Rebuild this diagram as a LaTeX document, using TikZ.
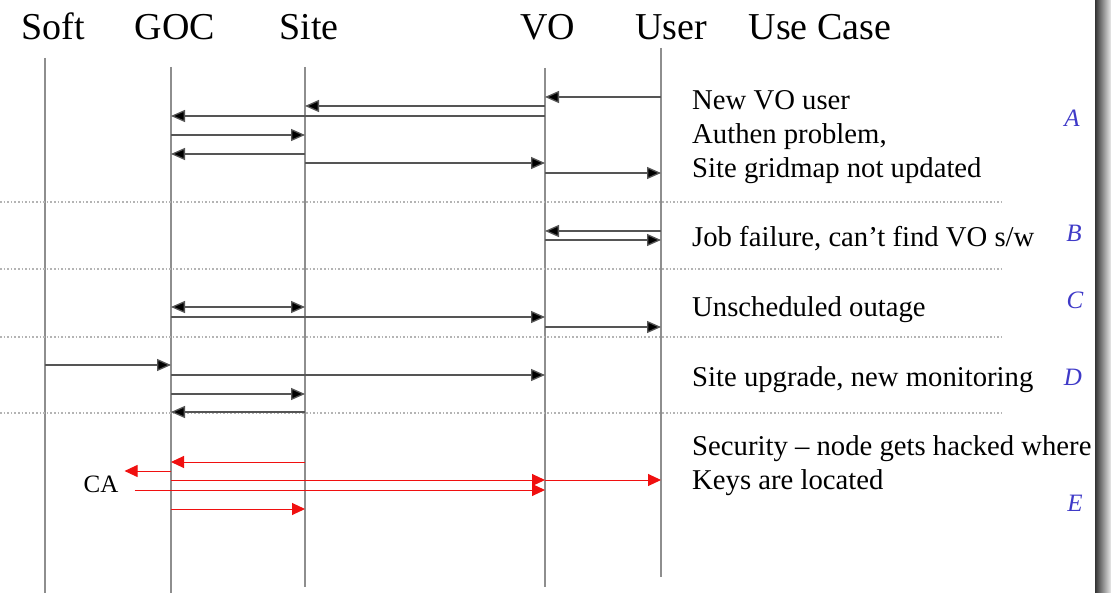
\documentclass[tikz,border=0pt]{standalone}
\usepackage{fontspec}
\setmainfont{Liberation Serif}
\usetikzlibrary{arrows.meta}
\definecolor{lifegray}{HTML}{8E8E8E}
\definecolor{msggray}{HTML}{555555}
\definecolor{sepgray}{HTML}{B4B4B4}
\definecolor{letterblue}{HTML}{3F3AC8}
\definecolor{msgred}{HTML}{F01010}
\tikzset{
  lifeline/.style={draw=lifegray, line width=1.6pt},
  msg/.style={draw=msggray, line width=1.3pt, -{Triangle[length=14pt,width=12pt,fill=black]}},
  dmsg/.style={draw=msggray, line width=1.3pt, {Triangle[length=14pt,width=12pt,fill=black]}-{Triangle[length=14pt,width=12pt,fill=black]}},
  rmsg/.style={draw=msgred, line width=1pt, -{Triangle[length=13pt,width=12pt,fill=msgred]}},
  sep/.style={draw=sepgray, line width=1.6pt, dotted},
  head/.style={font=\fontsize{38}{40}\selectfont, anchor=base, inner sep=0pt},
  body/.style={font=\fontsize{28.7}{34}\selectfont, anchor=base west, inner sep=0pt},
  letter/.style={font=\fontsize{25}{27}\selectfont\itshape, text=letterblue, inner sep=0pt},
}
\begin{document}
\begin{tikzpicture}[x=1pt, y=-1pt]
\useasboundingbox (0,0) rectangle (1111,593);
\fill[white] (0,0) rectangle (1111,593);
% right shadow edge
\shade[left color=black!80, right color=black!8] (1095,0) rectangle (1111,593);

% headers
\node[head] (hsoft) at (53,40) {Soft};
\node[head] (hgoc) at (175,40) {GOC};
\node[head] (hsite) at (309,40) {Site};
\node[head] (hvo) at (548,40) {VO};
\node[head] (huser) at (671,40) {User};
\node[head] (hcase) at (820,40) {Use Case};

% lifelines
\coordinate (soft) at (45,58);   \coordinate (softb) at (45,593);
\coordinate (goc) at (171,67);   \coordinate (gocb) at (171,593);
\coordinate (site) at (305,67);  \coordinate (siteb) at (305,587);
\coordinate (vo) at (545,68);    \coordinate (vob) at (545,587);
\coordinate (user) at (661,48);  \coordinate (userb) at (661,577);
\draw[lifeline] (soft) -- (softb);
\draw[lifeline] (goc) -- (gocb);
\draw[lifeline] (site) -- (siteb);
\draw[lifeline] (vo) -- (vob);
\draw[lifeline] (user) -- (userb);

% separators
\coordinate (s1a) at (0,202); \coordinate (s1b) at (1002,202);
\coordinate (s2a) at (0,269); \coordinate (s2b) at (1002,269);
\coordinate (s3a) at (0,337); \coordinate (s3b) at (1002,337);
\coordinate (s4a) at (0,413); \coordinate (s4b) at (1002,413);
\draw[sep] (s1a) -- (s1b);
\draw[sep] (s2a) -- (s2b);
\draw[sep] (s3a) -- (s3b);
\draw[sep] (s4a) -- (s4b);

% Section A
\draw[msg] (user |- 0,97) -- (vo |- 0,97);
\draw[msg] (vo |- 0,106) -- (site |- 0,106);
\draw[msg] (vo |- 0,116) -- (goc |- 0,116);
\draw[msg] (goc |- 0,135) -- (site |- 0,135);
\draw[msg] (site |- 0,154) -- (goc |- 0,154);
\draw[msg] (site |- 0,163) -- (vo |- 0,163);
\draw[msg] (vo |- 0,173) -- (user |- 0,173);

% Section B
\draw[msg] (user |- 0,231) -- (vo |- 0,231);
\draw[msg] (vo |- 0,240) -- (user |- 0,240);

% Section C
\draw[dmsg] (goc |- 0,307) -- (site |- 0,307);
\draw[msg] (goc |- 0,317) -- (vo |- 0,317);
\draw[msg] (vo |- 0,327) -- (user |- 0,327);

% Section D
\draw[msg] (soft |- 0,365) -- (goc |- 0,365);
\draw[msg] (goc |- 0,375) -- (vo |- 0,375);
\draw[msg] (goc |- 0,394) -- (site |- 0,394);
\draw[msg] (site |- 0,412) -- (goc |- 0,412);

% Section E
\node[font=\fontsize{25}{27}\selectfont, inner xsep=6pt, inner ysep=0pt, anchor=base] (ca) at (101,492) {CA};
\draw[rmsg] (site |- 0,462) -- (goc |- 0,462);
\draw[rmsg] (goc |- 0,471) -- (ca.east |- 0,471);
\draw[rmsg] (goc |- 0,480) -- (vo |- 0,480);
\draw[rmsg] (vo |- 0,480) -- (user |- 0,480);
\draw[rmsg] ([xshift=10pt]ca.east |- 0,490) -- (vo |- 0,490);
\draw[rmsg] (goc |- 0,509) -- (site |- 0,509);

% use case texts
\node[body] (ta1) at (692,110) {New VO user};
\node[body] (ta2) at (692,144) {Authen problem,};
\node[body] (ta3) at (692,178) {Site gridmap not updated};
\node[body] (tb) at (692,247) {Job failure, can’t find VO s/w};
\node[body] (tc) at (692,317) {Unscheduled outage};
\node[body] (td) at (692,387) {Site upgrade, new monitoring};
\node[body] (te1) at (692,455) {Security – node gets hacked where};
\node[body] (te2) at (692,489) {Keys are located};

% letters
\node[letter] (la) at (1072,118) {A};
\node[letter] (lb) at (1074,233) {B};
\node[letter] (lc) at (1075,300) {C};
\node[letter] (ld) at (1073,377) {D};
\node[letter] (le) at (1075,503) {E};
\end{tikzpicture}
\end{document}
